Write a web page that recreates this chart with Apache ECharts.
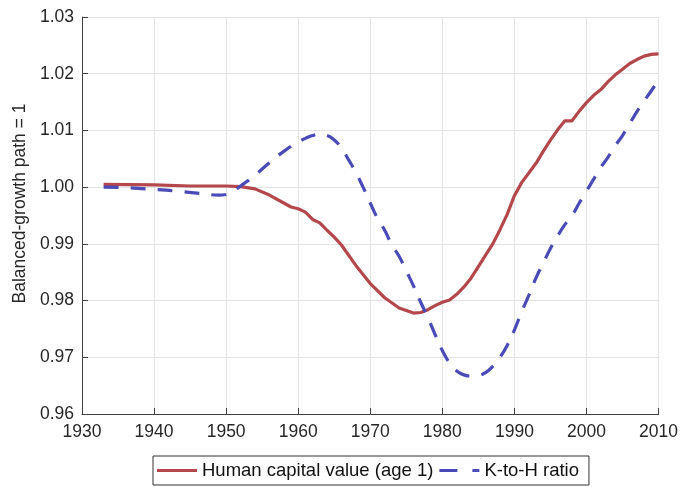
<!DOCTYPE html>
<html>
<head>
<meta charset="utf-8">
<script src="https://cdn.jsdelivr.net/npm/echarts@6/dist/echarts.min.js"></script>
<style>
  html, body { margin: 0; padding: 0; background: #fff; }
  #main { width: 681px; height: 487px; }
</style>
</head>
<body>
<div id="main"></div>
<script>
// human capital value (age 1), relative to balanced-growth path
var hcYears = [1933, 1940, 1945, 1950, 1952, 1954, 1956, 1958, 1959, 1960, 1961, 1962, 1963, 1964, 1965, 1966, 1968, 1970, 1972, 1974, 1976, 1977, 1978, 1979, 1980, 1981, 1982, 1983, 1984, 1985, 1986, 1987, 1988, 1989, 1990, 1991, 1992, 1993, 1994, 1995, 1996, 1997, 1998, 1999, 2000, 2001, 2002, 2003, 2004, 2005, 2006, 2007, 2008, 2009, 2010];
var hcValues = [1.0005, 1.0004, 1.0002, 1.0002, 1.0001, 0.9997, 0.9986, 0.9972, 0.9965, 0.9962, 0.9956, 0.9943, 0.9937, 0.9924, 0.9912, 0.9898, 0.9862, 0.9830, 0.9805, 0.9787, 0.9778, 0.9779, 0.9784, 0.9791, 0.9797, 0.9801, 0.9811, 0.9824, 0.9840, 0.9860, 0.9880, 0.9900, 0.9925, 0.9952, 0.9985, 1.0008, 1.0025, 1.0042, 1.0063, 1.0083, 1.0101, 1.0117, 1.0117, 1.0134, 1.0149, 1.0162, 1.0172, 1.0186, 1.0198, 1.0208, 1.0218, 1.0225, 1.0231, 1.0234, 1.0235];

// K-to-H ratio
var khYears = [1933, 1936, 1940, 1944, 1947, 1949, 1950, 1951, 1952, 1953, 1954, 1956, 1958, 1960, 1961, 1962, 1963, 1964, 1965, 1966, 1967, 1968, 1969, 1970, 1971, 1972, 1973, 1974, 1975, 1976, 1977, 1978, 1979, 1980, 1981, 1982, 1983, 1984, 1985, 1986, 1987, 1988, 1989, 1990, 1991, 1992, 1993, 1994, 1995, 1996, 1997, 1998, 1999, 2000, 2001, 2002, 2003, 2004, 2005, 2006, 2007, 2008, 2009, 2010];
var khValues = [1.0000, 0.9999, 0.9996, 0.9992, 0.9988, 0.9986, 0.9987, 0.9993, 1.0002, 1.0011, 1.0021, 1.0043, 1.0063, 1.0080, 1.0086, 1.0091, 1.0093, 1.0091, 1.0083, 1.0069, 1.0048, 1.0026, 1.0000, 0.9972, 0.9945, 0.9924, 0.9898, 0.9878, 0.9852, 0.9826, 0.9797, 0.9770, 0.9740, 0.9712, 0.9690, 0.9676, 0.9669, 0.9667, 0.9668, 0.9673, 0.9684, 0.9700, 0.9721, 0.9748, 0.9780, 0.9809, 0.9840, 0.9866, 0.9892, 0.9914, 0.9934, 0.9950, 0.9972, 0.9993, 1.0014, 1.0035, 1.0053, 1.0073, 1.0091, 1.0112, 1.0133, 1.0152, 1.0170, 1.0189];

var seriesNames = ['Human capital value (age 1)', 'K-to-H ratio'];
var colors = ['#b4474b', '#4a4ab8'];

function pairs(xs, ys) {
    return xs.map(function (x, i) { return [x, ys[i]]; });
}

var myChart = echarts.init(document.getElementById('main'));

var font = 'Liberation Sans, Arial, Helvetica, sans-serif';

var option = {
    animation: false,
    textStyle: { fontFamily: font },
    grid: { left: 82, right: 21, top: 17, bottom: 73 },
    xAxis: {
        type: 'value',
        min: 1930, max: 2010, interval: 10,
        axisLine: { onZero: false, lineStyle: { color: '#404040', width: 1 } },
        axisTick: { inside: true, length: 6, lineStyle: { color: '#404040' } },
        axisLabel: {
            color: '#262626', fontSize: 17.5, margin: 9, fontFamily: font,
            formatter: function (v) { return String(v); }
        },
        splitLine: { show: true, lineStyle: { color: '#e3e3e3' } }
    },
    yAxis: {
        type: 'value',
        min: 0.96, max: 1.03, interval: 0.01,
        name: 'Balanced-growth path = 1',
        nameLocation: 'middle',
        nameGap: 46,
        nameTextStyle: { color: '#262626', fontSize: 17.5, fontFamily: font, padding: [0, 0, 0, 24] },
        axisLine: { show: true, lineStyle: { color: '#404040', width: 1 } },
        axisTick: { show: true, inside: true, length: 6, lineStyle: { color: '#404040' } },
        axisLabel: {
            color: '#262626', fontSize: 17.5, margin: 8, fontFamily: font,
            formatter: function (v) { return v.toFixed(2); }
        },
        splitLine: { show: true, lineStyle: { color: '#e3e3e3' } }
    },
    legend: {
        data: [
            { name: seriesNames[0], icon: 'path://M0,0H40V3H0Z', itemStyle: { color: colors[0] } },
            { name: seriesNames[1], icon: 'path://M0,0H18V3H0Z M33,0H40V3H33Z', itemStyle: { color: colors[1] } }
        ],
        left: 153, top: 456,
        padding: [5, 10, 5, 4],
        itemWidth: 40,
        itemHeight: 3,
        itemGap: 6,
        borderColor: '#333',
        borderWidth: 1,
        textStyle: { color: '#111', fontSize: 18.5, fontFamily: font }
    },
    series: [
        {
            name: seriesNames[0],
            type: 'line',
            data: pairs(hcYears, hcValues),
            symbol: 'none',
            smooth: false,
            lineStyle: { color: colors[0], width: 3.2 },
            itemStyle: { color: colors[0] }
        },
        {
            name: seriesNames[1],
            type: 'line',
            data: pairs(khYears, khValues),
            symbol: 'none',
            smooth: true,
            lineStyle: { color: colors[1], width: 3.2, type: [15, 12] },
            itemStyle: { color: colors[1] }
        }
    ]
};

option && myChart.setOption(option);
</script>
</body>
</html>
